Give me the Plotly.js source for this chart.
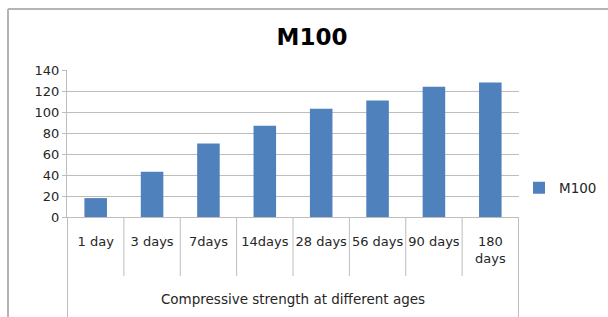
<!DOCTYPE html>
<html>
<head>
<meta charset="utf-8">
<script src="https://cdn.plot.ly/plotly-3.0.1.min.js"></script>
<style>html,body{margin:0;padding:0;background:#fff;}#chart{width:608px;height:317px;}</style>
</head>
<body>
<div id="chart"></div>
<script>
const categories = ["1 day", "3 days", "7days", "14days", "28 days", "56 days", "90 days", "180<br>days"];
const m100 = [18, 43, 70, 87, 103, 111, 124, 128];
const seriesName = "M100";
const chartTitle = "M100";
const xTitle = "Compressive strength at different ages";
const yTicks = [0, 20, 40, 60, 80, 100, 120, 140];

const W = 608, H = 317;
const L = 67, R = 89, T = 70, B = 100;
const pw = W - L - R, ph = H - T - B;
const px = v => (v - L) / pw;           // page x -> paper x
const py = v => (H - B - v) / ph;       // page y -> paper y

const grey = "#bdbdbd";
const shapes = [];
// outer chart border (top and left)
shapes.push({type: "line", xref: "paper", yref: "paper", x0: px(8), x1: px(W + 5), y0: py(9), y1: py(9), line: {color: "#b4b4b4", width: 2}});
shapes.push({type: "line", xref: "paper", yref: "paper", x0: px(8), x1: px(8), y0: py(9), y1: py(H + 5), line: {color: "#b4b4b4", width: 2}});
// category separators
for (let i = 0; i <= categories.length; i++) {
  const outer = (i === 0 || i === categories.length);
  shapes.push({type: "line", xref: "x", yref: "paper", x0: i - 0.5, x1: i - 0.5,
    y0: 0, y1: outer ? py(H + 5) : py(276), line: {color: grey, width: 1}});
}

const data = [{
  type: "bar",
  x: categories,
  y: m100,
  name: seriesName,
  marker: {color: "#4f81bd"},
  showlegend: true
}];

const layout = {
  width: W, height: H,
  margin: {l: L, r: R, t: T, b: B, pad: 0, autoexpand: false},
  paper_bgcolor: "#fff", plot_bgcolor: "#fff",
  font: {family: "DejaVu Sans, sans-serif", size: 13, color: "#262626"},
  title: {text: "<b>" + chartTitle + "</b>", font: {family: "DejaVu Sans, sans-serif", size: 23, color: "#000"},
    xref: "container", yref: "container", x: 312 / W, y: 1 - 37 / H, xanchor: "center", yanchor: "middle"},
  bargap: 0.6,
  xaxis: {
    type: "category",
    showgrid: false, zeroline: false,
    showline: true, linecolor: grey, linewidth: 1,
    ticks: "", tickangle: 0, ticklabelstandoff: 12,
    tickfont: {size: 13, color: "#262626"},
    title: {text: xTitle, font: {size: 13.5, color: "#262626"}, standoff: 30},
    automargin: false, fixedrange: true
  },
  yaxis: {
    range: [0, 140], tickvals: yTicks, ticktext: yTicks.map(String),
    showgrid: true, gridcolor: grey, gridwidth: 1,
    zeroline: false, showline: true, linecolor: grey, linewidth: 1,
    ticks: "outside", ticklen: 4, tickcolor: grey,
    tickfont: {size: 13, color: "#262626"},
    automargin: false, fixedrange: true
  },
  legend: {x: px(519), y: py(188), xanchor: "left", yanchor: "middle", xref: "paper", yref: "paper",
    font: {size: 13.5, color: "#262626"}, itemwidth: 30, bgcolor: "rgba(0,0,0,0)"},
  shapes: shapes
};

Plotly.newPlot("chart", data, layout, {displayModeBar: false, staticPlot: true});
</script>
</body>
</html>
